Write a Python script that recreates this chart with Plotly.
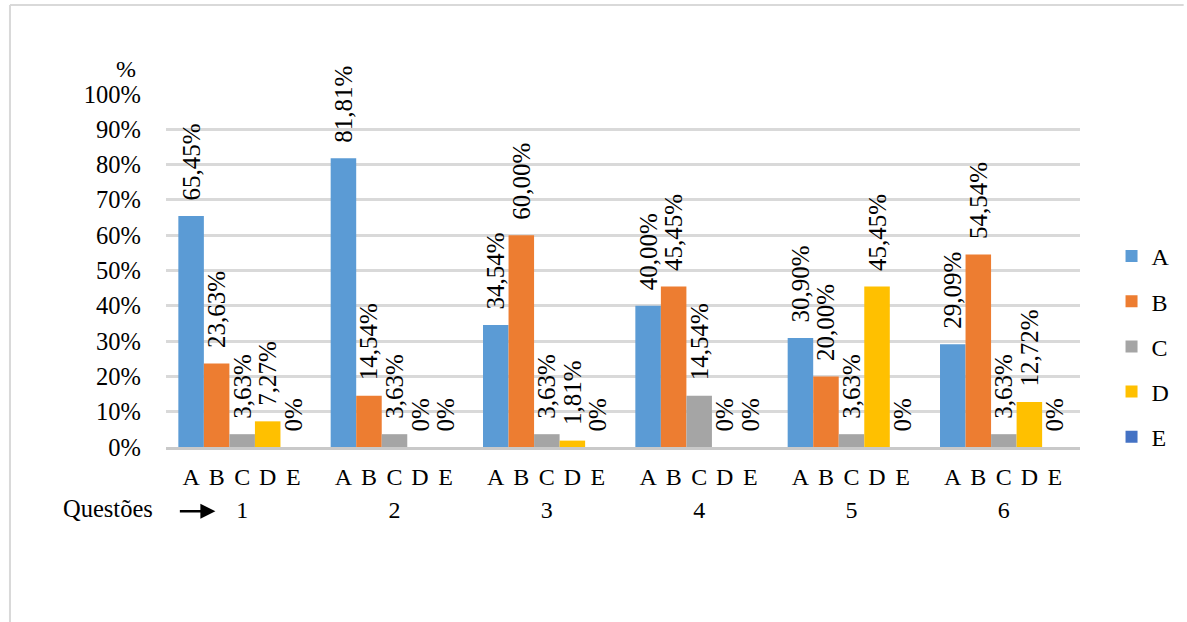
import plotly.graph_objects as go

questions = ["1", "2", "3", "4", "5", "6"]
options = ["A", "B", "C", "D", "E"]
values_A = [65.45, 81.81, 34.54, 40.00, 30.90, 29.09]
values_B = [23.63, 14.54, 60.00, 45.45, 20.00, 54.54]
values_C = [3.63, 3.63, 3.63, 14.54, 3.63, 3.63]
values_D = [7.27, 0, 1.81, 0, 45.45, 12.72]
values_E = [0, 0, 0, 0, 0, 0]
series = [values_A, values_B, values_C, values_D, values_E]
colors = ["#5B9BD5", "#ED7D31", "#A5A5A5", "#FFC000", "#4472C4"]
y_ticks = list(range(0, 101, 10))
y_ticktext = [f"{v}%" for v in y_ticks]

FONT = "Liberation Serif"
bargap = 0.162
x_idx = list(range(len(questions)))
PAD = "\u00a0\u00a0"  # small gap between bar top and its label


def fmt(v):
    return PAD + ("0%" if v == 0 else f"{v:.2f}".replace(".", ",") + "%")


fig = go.Figure()
for name, vals, col in zip(options, series, colors):
    fig.add_trace(go.Bar(
        x=x_idx, y=vals, name=name, marker_color=col, marker_line_width=0,
        text=[fmt(v) for v in vals], textposition="outside", textangle=-90,
        textfont=dict(family=FONT, size=25, color="#000"),
        constraintext="none", cliponaxis=False, legendgroup=name,
    ))

# letter tick positions within groups
w = (1 - bargap) / len(options)
letter_vals, letter_text = [], []
for i in x_idx:
    for j, o in enumerate(options):
        letter_vals.append(i + (j - (len(options) - 1) / 2) * w)
        letter_text.append(o)

# invisible trace on xaxis2 for group numbers
fig.add_trace(go.Scatter(x=x_idx, y=[None] * len(x_idx), xaxis="x2",
                         showlegend=False, hoverinfo="skip"))

fig.update_layout(
    width=1187, height=622,
    margin=dict(l=166, r=104, t=94, b=175),
    paper_bgcolor="white", plot_bgcolor="white",
    barmode="group", bargap=bargap, bargroupgap=0,
    font=dict(family=FONT, size=24, color="#000"),
    xaxis=dict(range=[-0.5, len(questions) - 0.5], tickmode="array",
               tickvals=letter_vals, ticktext=letter_text, showgrid=False,
               showline=True, linecolor="#c9c9c9", linewidth=3, ticks="",
               ticklabelstandoff=6, zeroline=False,
               tickfont=dict(family=FONT, size=24, color="#000")),
    xaxis2=dict(overlaying="x", matches="x", side="bottom", anchor="y",
                tickmode="array", tickvals=x_idx, ticktext=questions,
                showgrid=False, showline=False, ticks="", zeroline=False,
                ticklabelstandoff=46,
                tickfont=dict(family=FONT, size=24, color="#000")),
    yaxis=dict(range=[0, 100], tickmode="array", tickvals=y_ticks,
               ticktext=y_ticktext,
               showgrid=True, gridcolor="#d9d9d9", gridwidth=3,
               zeroline=False, ticks="", ticklabelstandoff=24,
               tickfont=dict(family=FONT, size=24.5, color="#000")),
    legend=dict(x=1.0345, xanchor="left", y=0.285, yanchor="middle",
                font=dict(family=FONT, size=24, color="#000"),
                tracegroupgap=11, itemwidth=30, bgcolor="rgba(0,0,0,0)"),
    showlegend=True,
)

fig.add_annotation(text="%", xref="paper", yref="paper", x=-0.0436, y=1.072,
                   xanchor="center", yanchor="middle", showarrow=False,
                   font=dict(family=FONT, size=24, color="#000"))
fig.add_annotation(text="Questões", xref="paper", yref="paper", x=-0.012, y=-0.175,
                   xanchor="right", yanchor="middle", showarrow=False,
                   font=dict(family=FONT, size=24.5, color="#000"))
fig.add_annotation(text="", xref="paper", yref="paper", x=0.054, y=-0.182,
                   ax=-37, ay=0, axref="pixel", ayref="pixel",
                   showarrow=True, arrowhead=2, arrowsize=1.2, arrowwidth=2.5,
                   arrowcolor="#000")
fig.add_shape(type="line", xref="paper", yref="paper",
              x0=-0.1707, x1=1.1134, y0=1.2521, y1=1.2521,
              line=dict(color="#d9d9d9", width=2), layer="below")
fig.add_shape(type="line", xref="paper", yref="paper",
              x0=-0.1707, x1=-0.1707, y0=-0.52, y1=1.2521,
              line=dict(color="#d9d9d9", width=2), layer="below")

fig.write_html("out.html")
